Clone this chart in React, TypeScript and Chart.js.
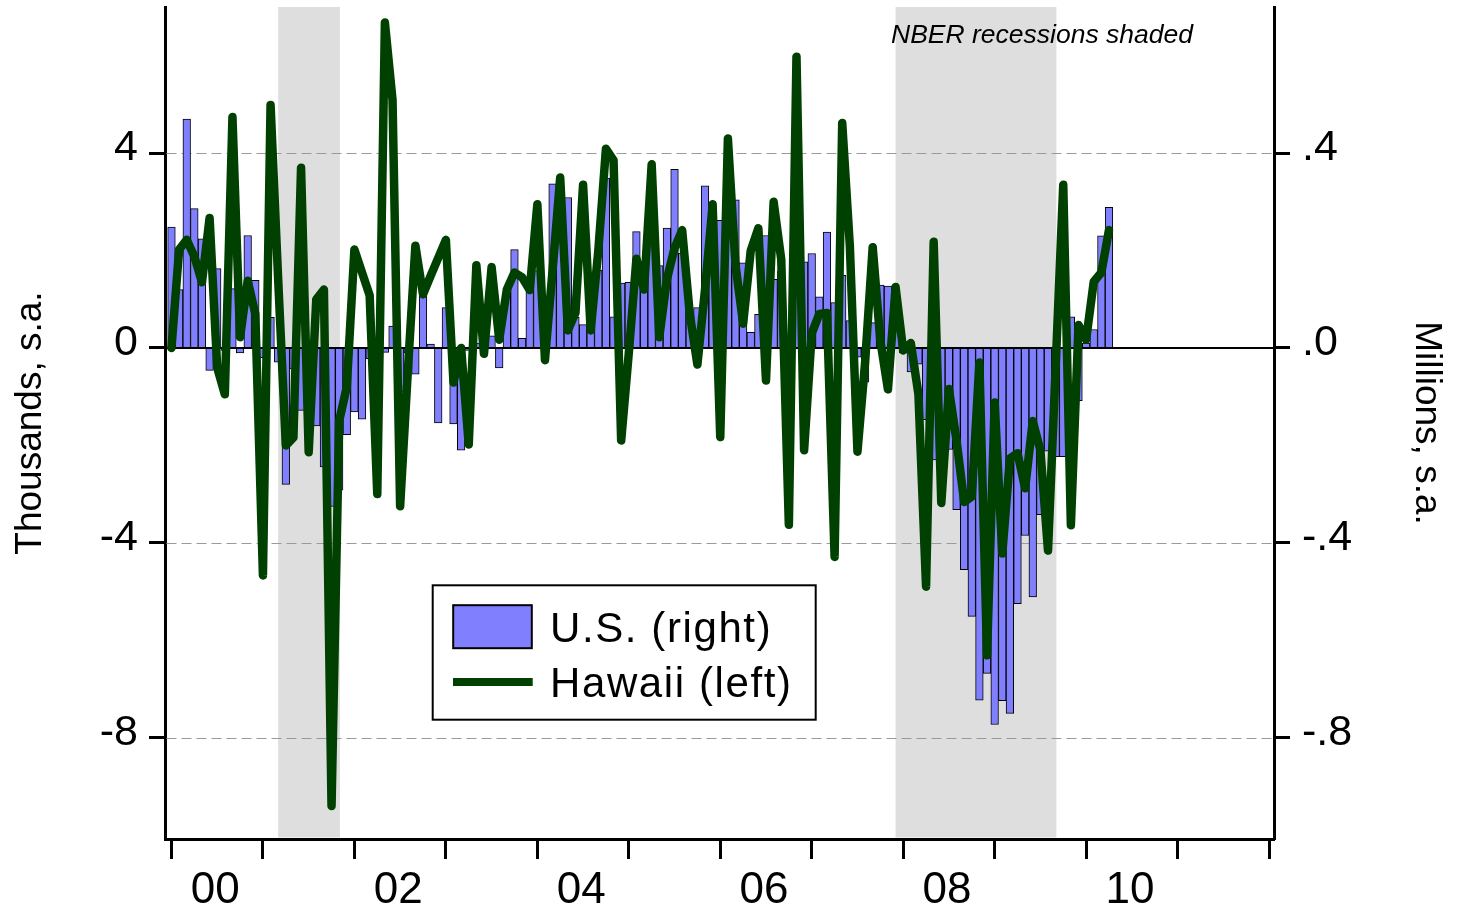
import React, { useEffect, useRef } from 'react';
import { Chart, registerables } from 'chart.js';

Chart.register(...registerables);

const FONT = "'Liberation Sans', Arial, Helvetica, sans-serif";

// U.S. nonfarm payroll change, millions, s.a. (right axis), Jan 2000 - Apr 2010
const usValues: number[] = [
  0.248, 0.120, 0.470, 0.286, 0.224, -0.046, 0.163, -0.005, 0.122, -0.010, 0.231, 0.139,
  -0.020, 0.063, -0.029, -0.280, -0.043, -0.128, -0.125, -0.160, -0.244, -0.325, -0.292, -0.178,
  -0.131, -0.146, -0.022, -0.084, -0.009, 0.045, -0.090, -0.010, -0.054, 0.107, 0.008, -0.154,
  0.083, -0.156, -0.210, -0.005, 0.010, 0.002, 0.025, -0.041, 0.115, 0.202, 0.020, 0.117,
  0.159, 0.043, 0.337, 0.249, 0.309, 0.063, 0.048, 0.120, 0.160, 0.349, 0.064, 0.133,
  0.135, 0.239, 0.117, 0.360, 0.169, 0.246, 0.367, 0.195, 0.065, 0.083, 0.333, 0.200,
  0.262, 0.300, 0.304, 0.175, 0.032, 0.069, 0.231, 0.141, 0.158, 0.005, 0.205, 0.177,
  0.194, 0.105, 0.238, 0.093, 0.149, 0.056, -0.019, -0.070, 0.052, 0.129, 0.127, 0.100,
  -0.010, -0.049, -0.033, -0.147, -0.230, -0.193, -0.208, -0.332, -0.455, -0.551, -0.723, -0.668,
  -0.773, -0.724, -0.750, -0.525, -0.385, -0.511, -0.342, -0.212, -0.223, -0.223, 0.064, -0.108,
  0.010, 0.038, 0.230, 0.289,
];

// Hawaii payroll change, thousands, s.a. (left axis), Jan 2000 - Apr 2010
const hawaiiValues: number[] = [
  0, 2.02, 2.22, 1.88, 1.35, 2.67, -0.4, -0.95, 4.74, 0.22, 1.38, 0.7,
  -4.67, 4.99, 1.4, -2.0, -1.84, 3.7, -2.14, 1.0, 1.2, -9.4, -1.5, -0.8,
  2.02, 1.55, 1.08, -3.0, 6.68, 5.1, -3.25, -0.5, 2.1, 1.1, 1.48, 1.85,
  2.22, -0.71, 0.0, -1.98, 1.7, -0.12, 1.66, 0.17, 1.2, 1.55, 1.45, 1.19,
  2.95, -0.25, 1.6, 3.5, 0.36, 0.72, 3.35, 0.36, 2.0, 4.09, 3.85, -1.9,
  -0.1, 1.83, 1.2, 3.77, 0.22, 1.41, 2.05, 2.42, 0.7, -0.34, 1.2, 2.95,
  -1.83, 4.3, 1.7, 0.5, 2.0, 2.46, -0.67, 3.0, 1.82, -3.63, 5.98, -2.1,
  0.3, 0.7, 0.72, -4.29, 4.62, 2.1, -2.13, -0.3, 2.07, 0.15, -0.85, 1.25,
  -0.05, 0.1, -0.95, -4.9, 2.18, -3.18, -0.84, -1.9, -3.16, -3.05, -0.3, -6.31,
  -1.12, -4.22, -2.27, -2.16, -2.88, -1.5, -2.1, -4.16, -0.4, 3.35, -3.64, 0.47,
  0.17, 1.36, 1.55, 2.42,
];

// month index (0 = Jan 2000)
const monthIndex: number[] = usValues.map((_, i) => i);

// NBER recessions (month index)
const recessionStart: number[] = [14, 95];
const recessionEnd: number[] = [22.1, 116.1];

// axes
const yearTicks: number[] = [0, 12, 24, 36, 48, 60, 72, 84, 96, 108, 120, 132, 144];
const yearLabelPos: number[] = [5.75, 29.75, 53.75, 77.75, 101.75, 125.75];
const yearLabels: string[] = ['00', '02', '04', '06', '08', '10'];
const leftTicks: number[] = [-8, -4, 0, 4];
const leftTickLabels: string[] = ['-8', '-4', '0', '4'];
const rightTicks: number[] = [-0.8, -0.4, 0, 0.4];
const rightTickLabels: string[] = ['-.8', '-.4', '.0', '.4'];

const BLUE = '#8080FF';
const GREEN = '#004000';
const SHADE = '#DEDEDE';

const decorPlugin = {
  id: 'decor',
  beforeDraw(chart: any) {
    const { ctx, width, height } = chart;
    ctx.save();
    ctx.fillStyle = '#ffffff';
    ctx.fillRect(0, 0, width, height);
    ctx.restore();
  },
  beforeDatasetsDraw(chart: any) {
    const { ctx, chartArea: a, scales } = chart;
    const xs = scales.x;
    const yL = scales.yL;
    ctx.save();
    ctx.fillStyle = SHADE;
    recessionStart.forEach((s, k) => {
      const x1 = xs.getPixelForValue(s);
      const x2 = xs.getPixelForValue(recessionEnd[k]);
      ctx.fillRect(x1, a.top, x2 - x1, a.bottom - a.top - 1.5);
    });
    ctx.strokeStyle = '#9a9a9a';
    ctx.lineWidth = 1;
    ctx.setLineDash([10, 5]);
    leftTicks.forEach((v) => {
      if (v === 0) return;
      const y = Math.round(yL.getPixelForValue(v)) + 0.5;
      ctx.beginPath();
      ctx.moveTo(a.left + 1.5, y);
      ctx.lineTo(a.right - 1.5, y);
      ctx.stroke();
    });
    ctx.restore();
  },
  afterDatasetDraw(chart: any, args: any) {
    if (!args.meta || args.meta.type !== 'bar') return;
    const { ctx, chartArea: a, scales } = chart;
    const y0 = Math.round(scales.yL.getPixelForValue(0));
    ctx.save();
    ctx.strokeStyle = '#000';
    ctx.lineWidth = 2;
    ctx.beginPath();
    ctx.moveTo(a.left, y0);
    ctx.lineTo(a.right, y0);
    ctx.stroke();
    ctx.restore();
  },
  afterDraw(chart: any) {
    const { ctx } = chart;
    ctx.save();
    ctx.fillStyle = '#000';
    ctx.textAlign = 'left';
    ctx.textBaseline = 'alphabetic';
    ctx.font = `italic 26.5px ${FONT}`;
    ctx.fillText('NBER recessions shaded', 891, 43);

    // legend
    ctx.fillStyle = '#fff';
    ctx.fillRect(432.7, 585.3, 383, 134.4);
    ctx.strokeStyle = '#000';
    ctx.lineWidth = 2;
    ctx.strokeRect(432.7, 585.3, 383, 134.4);

    ctx.fillStyle = BLUE;
    ctx.fillRect(453.2, 605.2, 78.6, 43);
    ctx.strokeStyle = '#000';
    ctx.lineWidth = 2;
    ctx.strokeRect(453.2, 605.2, 78.6, 43);

    ctx.strokeStyle = GREEN;
    ctx.lineWidth = 8;
    ctx.lineCap = 'butt';
    ctx.beginPath();
    ctx.moveTo(453, 682);
    ctx.lineTo(532.7, 682);
    ctx.stroke();

    ctx.fillStyle = '#000';
    ctx.font = `42px ${FONT}`;
    try { (ctx as any).letterSpacing = '1.6px'; } catch (e) { /* ignore */ }
    ctx.fillText('U.S. (right)', 550, 641.5);
    ctx.fillText('Hawaii (left)', 550, 697);
    try { (ctx as any).letterSpacing = '0px'; } catch (e) { /* ignore */ }
    ctx.restore();
  },
};

export default function App() {
  const ref = useRef<HTMLCanvasElement | null>(null);

  useEffect(() => {
    const canvas = ref.current;
    if (!canvas) return;
    Chart.defaults.font.family = FONT;
    const tickFont = { family: FONT, size: 43 };
    const titleFont = { family: FONT, size: 37 };

    const chart = new Chart(canvas, {
      type: 'bar',
      data: {
        datasets: [
          {
            type: 'line',
            label: 'Hawaii (left)',
            data: monthIndex.map((m, i) => ({ x: m, y: hawaiiValues[i] })),
            xAxisID: 'x',
            yAxisID: 'yL',
            borderColor: GREEN,
            backgroundColor: GREEN,
            borderWidth: 8.5,
            borderJoinStyle: 'round',
            borderCapStyle: 'round',
            pointRadius: 0,
            pointHoverRadius: 0,
            fill: false,
            tension: 0,
            order: 1,
          } as any,
          {
            type: 'bar',
            label: 'U.S. (right)',
            data: monthIndex.map((m, i) => ({ x: m, y: usValues[i] })),
            xAxisID: 'x',
            yAxisID: 'yR',
            backgroundColor: BLUE,
            borderColor: '#000',
            borderWidth: 1,
            barPercentage: 1,
            categoryPercentage: 1,
            order: 2,
          } as any,
        ],
      },
      options: {
        responsive: false,
        animation: false,
        devicePixelRatio: 1,
        events: [],
        layout: { padding: { top: 7, left: 0, right: 0, bottom: 0 } },
        plugins: {
          legend: { display: false },
          tooltip: { enabled: false },
          title: { display: false },
        },
        scales: {
          x: {
            type: 'linear',
            axis: 'x',
            position: 'bottom',
            min: -0.85,
            max: 144.65,
            bounds: 'data',
            offset: false,
            afterBuildTicks: (s: any) => {
              s.ticks = yearTicks.map((v) => ({ value: v }));
            },
            afterFit: (s: any) => {
              s.height = 20;
              s.paddingLeft = 0;
              s.paddingRight = 0;
            },
            ticks: { callback: () => '', autoSkip: false, maxRotation: 0, font: { size: 10 } },
            grid: {
              display: true,
              offset: false,
              drawOnChartArea: false,
              drawTicks: true,
              tickLength: 20,
              tickWidth: 3,
              tickColor: '#000',
              color: '#000',
            },
            border: { display: true, color: '#000', width: 3 },
          },
          x2: {
            type: 'linear',
            axis: 'x',
            position: 'bottom',
            min: -0.85,
            max: 144.65,
            bounds: 'data',
            offset: false,
            afterBuildTicks: (s: any) => {
              s.ticks = yearLabelPos.map((v) => ({ value: v }));
            },
            afterFit: (s: any) => {
              s.height = 49;
              s.paddingLeft = 0;
              s.paddingRight = 0;
            },
            ticks: {
              callback: (_v: any, i: number) => yearLabels[i] ?? '',
              autoSkip: false,
              maxRotation: 0,
              color: '#000',
              padding: 5,
              font: { family: FONT, size: 44 },
            },
            grid: { display: false, drawTicks: false, offset: false },
            border: { display: false },
          },
          yL: {
            type: 'linear',
            axis: 'y',
            position: 'left',
            min: -10.08,
            max: 7,
            bounds: 'data',
            afterBuildTicks: (s: any) => {
              s.ticks = leftTicks.map((v) => ({ value: v }));
            },
            afterFit: (s: any) => {
              s.width = 165;
              s.paddingTop = 0;
              s.paddingBottom = 0;
            },
            ticks: {
              callback: (_v: any, i: number) => leftTickLabels[i] ?? '',
              autoSkip: false,
              color: '#000',
              padding: 11,
              labelOffset: -5,
              font: tickFont,
            },
            grid: {
              display: true,
              drawOnChartArea: false,
              drawTicks: true,
              tickLength: 16,
              tickWidth: 3,
              tickColor: '#000',
              color: '#000',
            },
            border: { display: true, color: '#000', width: 3 },
            title: {
              display: true,
              text: 'Thousands, s.a.',
              color: '#000',
              font: titleFont,
              padding: { top: 8.5, bottom: 0 },
            },
          },
          yR: {
            type: 'linear',
            axis: 'y',
            position: 'right',
            min: -1.008,
            max: 0.7,
            bounds: 'data',
            afterBuildTicks: (s: any) => {
              s.ticks = rightTicks.map((v) => ({ value: v }));
            },
            afterFit: (s: any) => {
              s.width = 183;
              s.paddingTop = 0;
              s.paddingBottom = 0;
            },
            ticks: {
              callback: (_v: any, i: number) => rightTickLabels[i] ?? '',
              autoSkip: false,
              color: '#000',
              padding: 12,
              labelOffset: -5,
              font: tickFont,
            },
            grid: {
              display: true,
              drawOnChartArea: false,
              drawTicks: true,
              tickLength: 16,
              tickWidth: 3,
              tickColor: '#000',
              color: '#000',
            },
            border: { display: true, color: '#000', width: 3 },
            title: {
              display: true,
              text: 'Millions, s.a.',
              color: '#000',
              font: titleFont,
              padding: { top: 8.5, bottom: 0 },
            },
          },
        },
      } as any,
      plugins: [decorPlugin as any],
    });

    return () => {
      chart.destroy();
    };
  }, []);

  return (
    <div style={{ position: 'absolute', left: 0, top: 0, width: 1457, height: 908, background: '#fff' }}>
      <canvas ref={ref} width={1457} height={908} style={{ display: 'block', width: 1457, height: 908 }} />
    </div>
  );
}
